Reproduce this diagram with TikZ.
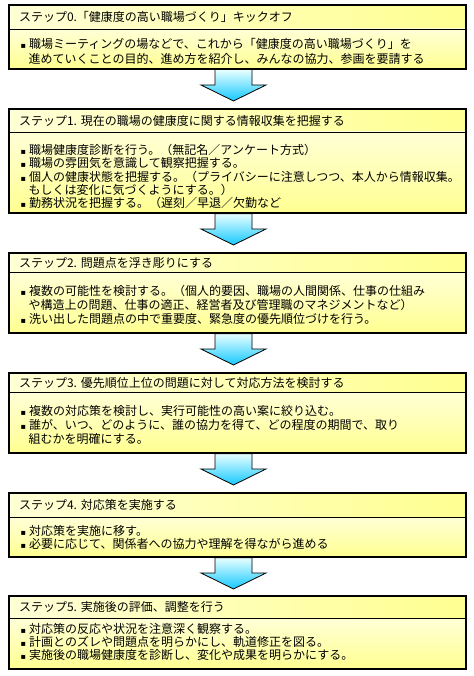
\documentclass[tikz,border=0pt]{standalone}
\usepackage{fontspec}
\setmainfont{Noto Sans CJK JP}
\newfontfamily\symfont{DejaVu Sans}
\usetikzlibrary{calc}
\definecolor{ypale}{RGB}{255,255,215}
\definecolor{ydeep}{RGB}{255,255,145}
\definecolor{cpale}{RGB}{232,255,255}
\definecolor{cdeep}{RGB}{20,200,255}
\tikzset{
  hdrbox/.style={anchor=north west, minimum width=457pt, text width=437pt, align=left,
    inner xsep=10pt, inner ysep=0pt, outer sep=0pt, left color=ypale, right color=ydeep,
    font=\fontsize{12}{14}\selectfont},
  bodybox/.style={anchor=north west, minimum width=457pt, inner sep=0pt, outer sep=0pt,
    top color=ypale, bottom color=ydeep},
  frame/.style={draw=black, line width=1.3pt},
  divline/.style={draw=black, line width=0.8pt},
  bline/.style={anchor=base west, inner sep=0pt, font=\fontsize{12}{14}\selectfont},
  blockarrow/.style={draw=black, line width=0.8pt, top color=cpale, bottom color=cdeep},
}
\newcommand{\bul}{\makebox[8.5pt][l]{\symfont\fontsize{8}{8}\selectfont ▪}}
\newcommand{\blockarr}[1]{%
  \path[blockarrow] ($(#1.south)+(-22.5,0.6)$) -- ++(0,15.4) -- ++(-14,0)
    -- ($(#1.south)+(-4,32)$) -- ++(32.5,-16) -- ++(-14,0) -- ++(0,-15.4) -- cycle;}
\begin{document}
\begin{tikzpicture}[x=1pt,y=-1pt]
\useasboundingbox (0,0) rectangle (473,676);

% Box 0
\node[hdrbox, minimum height=24pt] (h0) at (9,5) {ステップ0.「健康度の高い職場づくり」キックオフ};
\node[bodybox, minimum height=40pt] (b0) at (h0.south west) {};
\draw[frame] (h0.north west) rectangle (b0.south east);
\draw[divline] (h0.south west) -- (h0.south east);
\node[bline] (t0a) at (20.5,48.4) {\bul 職場ミーティングの場などで、これから「健康度の高い職場づくり」を};
\node[bline] (t0b) at (28.5,63.4) {進めていくことの目的、進め方を紹介し、みんなの協力、参画を要請する};

% Box 1
\node[hdrbox, minimum height=23pt] (h1) at (9,109) {ステップ1.\ 現在の職場の健康度に関する情報収集を把握する};
\node[bodybox, minimum height=81pt] (b1) at (h1.south west) {};
\draw[frame] (h1.north west) rectangle (b1.south east);
\draw[divline] (h1.south west) -- (h1.south east);
\node[bline] (t1a) at (20.5,154.4) {\bul 職場健康度診断を行う。（無記名／アンケート方式）};
\node[bline] (t1b) at (20.5,167.7) {\bul 職場の雰囲気を意識して観察把握する。};
\node[bline] (t1c) at (20.5,181.1) {\bul 個人の健康状態を把握する。（プライバシーに注意しつつ、本人から情報収集。};
\node[bline] (t1d) at (28.5,194.4) {もしくは変化に気づくようにする。）};
\node[bline] (t1e) at (20.5,207.6) {\bul 勤務状況を把握する。（遅刻／早退／欠勤など};

% Box 2
\node[hdrbox, minimum height=19pt] (h2) at (9,253) {ステップ2.\ 問題点を浮き彫りにする};
\node[bodybox, minimum height=61pt] (b2) at (h2.south west) {};
\draw[frame] (h2.north west) rectangle (b2.south east);
\draw[divline] (h2.south west) -- (h2.south east);
\node[bline] (t2a) at (20.5,295.4) {\bul 複数の可能性を検討する。（個人的要因、職場の人間関係、仕事の仕組み};
\node[bline] (t2b) at (28.5,309.4) {や構造上の問題、仕事の適正、経営者及び管理職のマネジメントなど）};
\node[bline] (t2c) at (20.5,323.4) {\bul 洗い出した問題点の中で重要度、緊急度の優先順位づけを行う。};

% Box 3
\node[hdrbox, minimum height=19pt] (h3) at (9,373) {ステップ3.\ 優先順位上位の問題に対して対応方法を検討する};
\node[bodybox, minimum height=61pt] (b3) at (h3.south west) {};
\draw[frame] (h3.north west) rectangle (b3.south east);
\draw[divline] (h3.south west) -- (h3.south east);
\node[bline] (t3a) at (20.5,415.4) {\bul 複数の対応策を検討し、実行可能性の高い案に絞り込む。};
\node[bline] (t3b) at (20.5,429.9) {\bul 誰が、いつ、どのように、誰の協力を得て、どの程度の期間で、取り};
\node[bline] (t3c) at (28.5,443.4) {組むかを明確にする。};

% Box 4
\node[hdrbox, minimum height=24pt] (h4) at (9,493) {ステップ4.\ 対応策を実施する};
\node[bodybox, minimum height=40pt] (b4) at (h4.south west) {};
\draw[frame] (h4.north west) rectangle (b4.south east);
\draw[divline] (h4.south west) -- (h4.south east);
\node[bline] (t4a) at (20.5,535.4) {\bul 対応策を実施に移す。};
\node[bline] (t4b) at (20.5,548.4) {\bul 必要に応じて、関係者への協力や理解を得ながら進める};

% Box 5
\node[hdrbox, minimum height=22pt] (h5) at (9,596) {ステップ5.\ 実施後の評価、調整を行う};
\node[bodybox, minimum height=51pt] (b5) at (h5.south west) {};
\draw[frame] (h5.north west) rectangle (b5.south east);
\draw[divline] (h5.south west) -- (h5.south east);
\node[bline] (t5a) at (20.5,633.4) {\bul 対応策の反応や状況を注意深く観察する。};
\node[bline] (t5b) at (20.5,646.9) {\bul 計画とのズレや問題点を明らかにし、軌道修正を図る。};
\node[bline] (t5c) at (20.5,659.4) {\bul 実施後の職場健康度を診断し、変化や成果を明らかにする。};

% Arrows
\blockarr{b0}
\blockarr{b1}
\blockarr{b2}
\blockarr{b3}
\blockarr{b4}
\end{tikzpicture}
\end{document}
